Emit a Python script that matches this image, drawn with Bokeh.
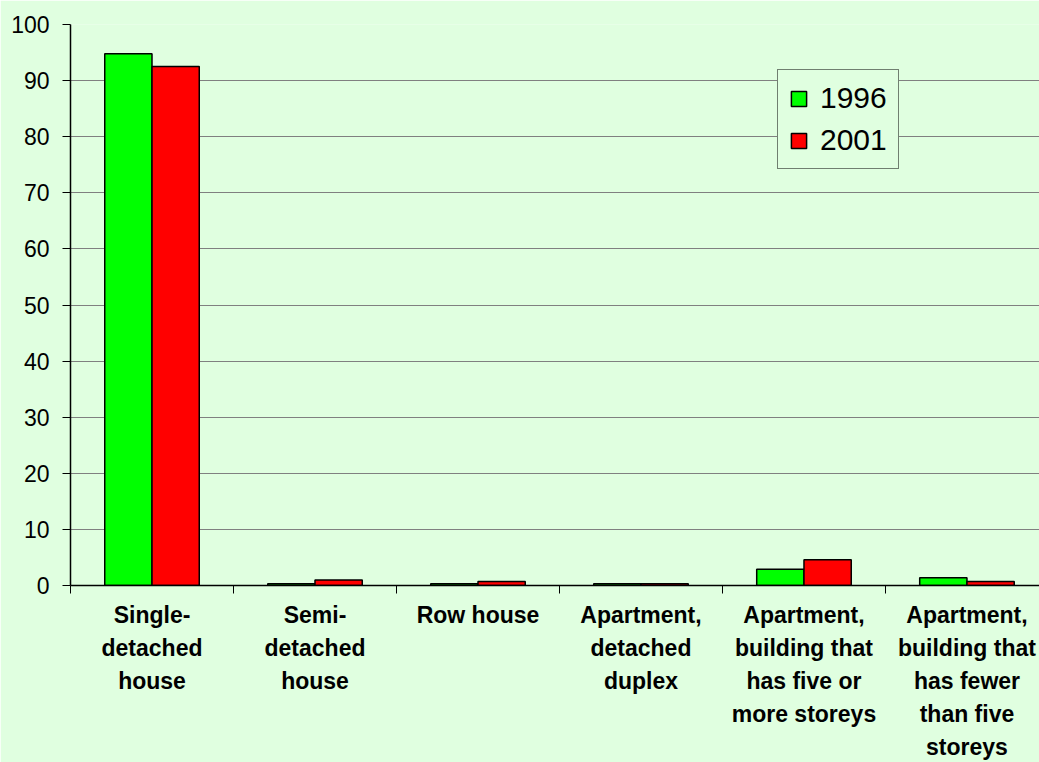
from bokeh.plotting import figure
from bokeh.models import ColumnDataSource, Range1d, FixedTicker, Legend, LegendItem
from bokeh.embed import file_html
from bokeh.resources import INLINE

categories = ["Single-\ndetached\nhouse", "Semi-\ndetached\nhouse", "Row house",
              "Apartment,\ndetached\nduplex", "Apartment,\nbuilding that\nhas five or\nmore storeys",
              "Apartment,\nbuilding that\nhas fewer\nthan five\nstoreys"]
values_1996 = [94.8, 0.3, 0.3, 0.3, 2.9, 1.4]
values_2001 = [92.5, 1.0, 0.7, 0.3, 4.6, 0.7]
y_ticks = [0, 10, 20, 30, 40, 50, 60, 70, 80, 90, 100]

BG = "#E0FFE0"
n = len(categories)
centers = [i + 0.5 for i in range(n)]
bw = 0.29

p = figure(width=1039, height=762, output_backend="svg", toolbar_location=None,
           x_range=Range1d(0, 5.945), y_range=Range1d(0, 100),
           min_border_left=70, min_border_top=24, min_border_right=0, min_border_bottom=176)
p.background_fill_color = BG
p.border_fill_color = BG
p.outline_line_color = None

src1 = ColumnDataSource(dict(x=[c - bw / 2 for c in centers], top=values_1996))
src2 = ColumnDataSource(dict(x=[c + bw / 2 for c in centers], top=values_2001))
r1 = p.vbar(x="x", top="top", width=bw, source=src1, fill_color="#00FF00",
            line_color="black", line_width=1.5)
r2 = p.vbar(x="x", top="top", width=bw, source=src2, fill_color="#FF0000",
            line_color="black", line_width=1.5)

# x axis
p.xaxis.ticker = FixedTicker(ticks=centers, minor_ticks=list(range(n + 1)))
p.xaxis.major_label_overrides = {c: lab for c, lab in zip(centers, categories)}
p.xaxis.major_tick_line_color = None
p.xaxis.major_tick_out = 0
p.xaxis.major_tick_in = 0
p.xaxis.minor_tick_line_color = "black"
p.xaxis.minor_tick_out = 8
p.xaxis.minor_tick_in = 0
p.xaxis.major_label_text_font = "Liberation Sans"
p.xaxis.major_label_text_font_style = "bold"
p.xaxis.major_label_text_font_size = "23px"
p.xaxis.major_label_text_color = "black"
p.xaxis.major_label_text_line_height = 1.27
p.xaxis.major_label_standoff = 8
p.xaxis.major_label_orientation = "horizontal"
p.xaxis.axis_line_color = "black"
p.xaxis.axis_line_width = 1.5
p.xgrid.grid_line_color = None

# y axis
p.yaxis.ticker = FixedTicker(ticks=y_ticks)
p.yaxis.minor_tick_line_color = None
p.yaxis.major_tick_out = 8
p.yaxis.major_tick_in = 0
p.yaxis.major_tick_line_color = "black"
p.yaxis.major_label_text_font = "Liberation Sans"
p.yaxis.major_label_text_font_size = "23px"
p.yaxis.major_label_text_color = "black"
p.yaxis.major_label_standoff = 13
p.yaxis.axis_line_color = "black"
p.yaxis.axis_line_width = 1.5
p.ygrid.grid_line_color = "#808080"
p.ygrid.grid_line_width = 1

legend = Legend(items=[LegendItem(label="1996", renderers=[r1]),
                       LegendItem(label="2001", renderers=[r2])],
                location=(707, 416))
legend.label_text_font = "Liberation Sans"
legend.label_text_font_size = "30px"
legend.label_text_color = "black"
legend.glyph_width = 19
legend.glyph_height = 19
legend.label_standoff = 12
legend.spacing = 8
legend.padding = 11
legend.margin = 0
legend.border_line_color = "black"
legend.border_line_width = 1
legend.background_fill_color = BG
legend.background_fill_alpha = 1
p.add_layout(legend, "center")

open("out.html", "w").write(file_html(p, INLINE))
